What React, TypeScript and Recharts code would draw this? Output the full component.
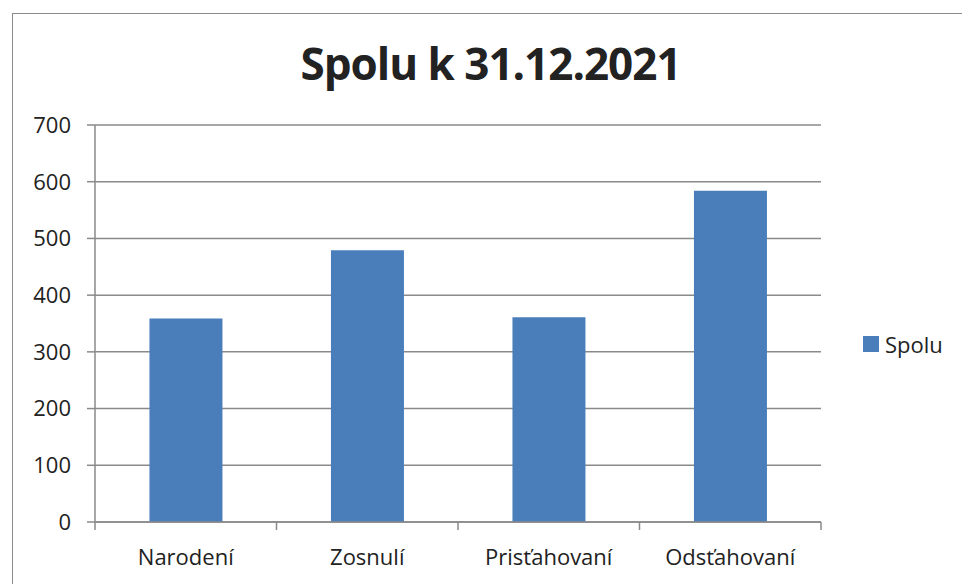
import React from 'react';
import { BarChart, Bar, XAxis, YAxis, CartesianGrid, Legend } from 'recharts';

const categories = ['Narodení', 'Zosnulí', 'Prisťahovaní', 'Odsťahovaní'];
const spolu = [359, 479, 361, 584];
const yTicks = [0, 100, 200, 300, 400, 500, 600, 700];

const data = categories.map((name, i) => ({ name, spolu: spolu[i] }));

const FONT = '"Open Sans", "Noto Sans", sans-serif';
const GRID = '#8a8a8a';
const TEXT = '#222222';
const BLUE = '#4a7ebb';

const CategoryTick = (props: any) => {
  const { x, y, payload, index, visibleTicksCount } = props;
  const half = payload && payload.offset ? payload.offset : 90.75;
  const isLast = index === (visibleTicksCount ?? categories.length) - 1;
  return (
    <g>
      <line x1={x - half} y1={y - 8} x2={x - half} y2={y} stroke={GRID} strokeWidth={1.5} />
      {isLast && <line x1={x + half} y1={y - 8} x2={x + half} y2={y} stroke={GRID} strokeWidth={1.5} />}
      <text x={x} y={y + 35} textAnchor="middle" fill={TEXT} fontSize={22} fontFamily={FONT}>
        {payload.value}
      </text>
    </g>
  );
};

const LegendContent = (props: any) => {
  const { payload } = props;
  return (
    <div style={{ fontFamily: FONT, fontSize: 22, color: TEXT, whiteSpace: 'nowrap' }}>
      {(payload || []).map((entry: any) => (
        <span key={entry.value} style={{ display: 'inline-flex', alignItems: 'center' }}>
          <span style={{ display: 'inline-block', width: 16, height: 16, background: entry.color, marginRight: 6 }} />
          {entry.value}
        </span>
      ))}
    </div>
  );
};

const App: React.FC = () => {
  return (
    <div style={{ position: 'absolute', left: 0, top: 0, width: 962, height: 584, overflow: 'hidden', background: '#fff' }}>
      <div
        style={{
          position: 'absolute', left: 12, top: 13, width: 1000, height: 700,
          borderLeft: `1.5px solid ${GRID}`, borderTop: `1.5px solid ${GRID}`,
        }}
      />
      <div
        style={{
          position: 'absolute', left: 0, top: 33, width: 981, textAlign: 'center',
          fontFamily: FONT, fontWeight: 700, fontSize: 44, letterSpacing: -1, color: TEXT,
        }}
      >
        Spolu k 31.12.2021
      </div>
      <div style={{ position: 'absolute', left: 0, top: 0 }}>
        <BarChart
          width={962}
          height={584}
          data={data}
          margin={{ top: 125, right: 141, bottom: 32, left: 0 }}
          barCategoryGap="30%"
        >
          <CartesianGrid vertical={false} stroke={GRID} strokeWidth={1.5} />
          <XAxis
            dataKey="name"
            height={30}
            axisLine={{ stroke: GRID, strokeWidth: 1.5 }}
            tickLine={false}
            tickSize={8}
            tickMargin={0}
            tick={<CategoryTick />}
            interval={0}
          />
          <YAxis
            width={95}
            domain={[0, 700]}
            ticks={yTicks}
            axisLine={{ stroke: GRID, strokeWidth: 1.5 }}
            tickLine={{ stroke: GRID, strokeWidth: 1.5 }}
            tickSize={8}
            tickMargin={16}
            tick={{ fill: TEXT, fontSize: 22, fontFamily: FONT }}
          />
          <Legend
            layout="horizontal"
            verticalAlign="middle"
            align="center"
            width={100}
            wrapperStyle={{ left: 863, top: 328 }}
            content={<LegendContent />}
          />
          <Bar dataKey="spolu" name="Spolu" fill={BLUE} isAnimationActive={false} />
        </BarChart>
      </div>
    </div>
  );
};

export default App;
